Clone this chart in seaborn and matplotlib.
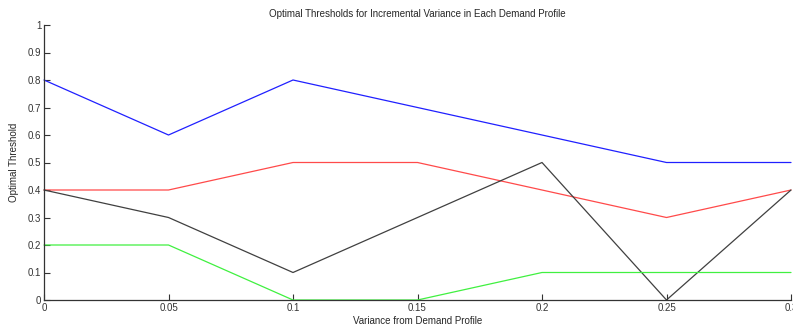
import matplotlib
matplotlib.use("Agg")
import matplotlib.pyplot as plt
import seaborn as sns
import pandas as pd

variance = [0, 0.05, 0.1, 0.15, 0.2, 0.25, 0.3]
profile_blue = [0.8, 0.6, 0.8, 0.7, 0.6, 0.5, 0.5]
profile_red = [0.4, 0.4, 0.5, 0.5, 0.4, 0.3, 0.4]
profile_black = [0.4, 0.3, 0.1, 0.3, 0.5, 0.0, 0.4]
profile_green = [0.2, 0.2, 0.0, 0.0, 0.1, 0.1, 0.1]

series = {
    "blue": profile_blue,
    "red": profile_red,
    "black": profile_black,
    "green": profile_green,
}
palette = {"blue": "#2020ff", "red": "#ff4a4a", "black": "#404040", "green": "#40f040"}

frames = []
for name, vals in series.items():
    frames.append(pd.DataFrame({"variance": variance, "threshold": vals, "profile": name}))
df = pd.concat(frames, ignore_index=True)

sns.set_style("white")
plt.rcParams["font.family"] = ["Liberation Sans", "DejaVu Sans"]

fig = plt.figure(figsize=(7.93, 3.29), dpi=100)
ax = fig.add_axes([44 / 793, 1 - 300 / 329, (791 - 44) / 793, (300 - 25) / 329])

sns.lineplot(data=df, x="variance", y="threshold", hue="profile", palette=palette,
             linewidth=0.9, legend=False, ax=ax, clip_on=False)

ax.set_xlim(0, 0.3)
ax.set_ylim(0, 1)
ax.set_xticks(variance)
ax.set_xticklabels(["0", "0.05", "0.1", "0.15", "0.2", "0.25", "0.3"])
ax.set_yticks([i / 10 for i in range(11)])
ax.set_yticklabels(["0", "0.1", "0.2", "0.3", "0.4", "0.5", "0.6", "0.7", "0.8", "0.9", "1"])
ax.tick_params(direction="in", length=4, width=0.8, labelsize=7, colors="#333333",
               pad=2, left=True, bottom=True)
for s in ["top", "right"]:
    ax.spines[s].set_visible(False)
for s in ["left", "bottom"]:
    ax.spines[s].set_color("#333333")
    ax.spines[s].set_linewidth(0.9)

ax.set_title("Optimal Thresholds for Incremental Variance in Each Demand Profile",
             fontsize=7, pad=6)
ax.set_xlabel("Variance from Demand Profile", fontsize=7, labelpad=2)
ax.set_ylabel("Optimal Threshold", fontsize=7, labelpad=6)

fig.savefig("out.png", dpi=100)
